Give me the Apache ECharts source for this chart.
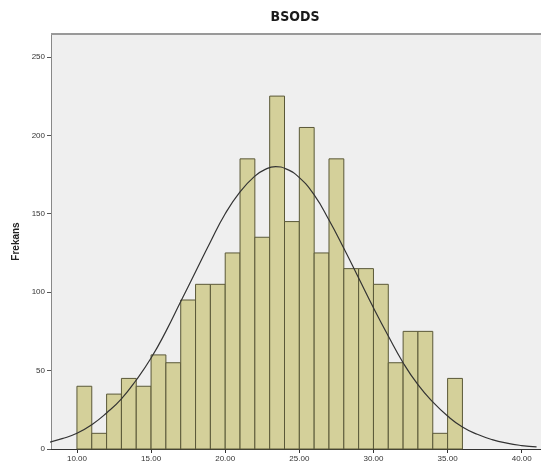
<!DOCTYPE html>
<html>
<head>
<meta charset="utf-8">
<script src="https://cdn.jsdelivr.net/npm/echarts@6/dist/echarts.min.js"></script>
<style>
html,body{margin:0;padding:0;background:#fff;}
#chart{width:541px;height:475px;}
</style>
</head>
<body>
<div id="chart"></div>
<script>
// Histogram bins (lower edges), bin width 1
var binStarts = [10,11,12,13,14,15,16,17,18,19,20,21,22,23,24,25,26,27,28,29,30,31,32,33,34,35];
var binWidth = 1;
var counts = [40,10,35,45,40,60,55,95,105,105,125,185,135,225,145,205,125,185,115,115,105,55,75,75,10,45];
// Normal curve
var curveX = [8,9,10,11,12,13,14,15,16,17,18,19,20,21,22,22.7,23.4,24.1,25,26,27,28,29,30,31,32,33,34,35,36,37,38,39,40,41];
var curveY = [4,6.6,10,15.5,23,32,44,58,75,94,113,132,150,164,174,178.3,180,178.6,173,162,146,128,109,90,72,55,41,30,21,14,9.4,6,3.7,2.2,1.3];
var xTicks = [10,15,20,25,30,35,40];
var yTicks = [0,50,100,150,200,250];

var chart = echarts.init(document.getElementById('chart'));
var barData = binStarts.map(function(b,i){return [b, b+binWidth, counts[i]];});
var curveData = curveX.map(function(x,i){return [x, curveY[i]];});
var font = 'Liberation Sans, Arial, sans-serif';

chart.setOption({
  animation:false,
  backgroundColor:'#ffffff',
  title:{
    text:'BSODS', left:290, top:5, textAlign:'center',
    textStyle:{fontFamily:'DejaVu Sans Condensed, Liberation Sans Narrow, sans-serif', fontSize:14, fontWeight:'bold', color:'#1a1a1a'}
  },
  grid:{left:51, top:34, right:0, bottom:26, show:true, backgroundColor:'#efefef', borderWidth:0},
  xAxis:{
    type:'value', min:8.25, max:41.3,
    axisLine:{show:true, lineStyle:{color:'#333', width:1}},
    axisTick:{show:true, length:4, inside:false, customValues:xTicks, lineStyle:{color:'#333'}},
    axisLabel:{customValues:xTicks, fontFamily:font, fontSize:8, color:'#333', margin:6,
      formatter:function(v){return v.toFixed(2);}},
    splitLine:{show:false}
  },
  yAxis:{
    type:'value', min:0, max:264.6,
    name:'Frekans', nameLocation:'middle', nameGap:28, nameRotate:90,
    nameTextStyle:{fontFamily:font, fontSize:10, fontWeight:'bold', color:'#222'},
    axisLine:{show:true, lineStyle:{color:'#888', width:1}},
    axisTick:{show:true, length:4, customValues:yTicks, lineStyle:{color:'#555'}},
    axisLabel:{customValues:yTicks, fontFamily:font, fontSize:8, color:'#333', margin:6},
    splitLine:{show:false}
  },
  series:[
    {
      type:'custom',
      data:barData,
      encode:{x:[0,1], y:2},
      renderItem:function(params, api){
        var p0 = api.coord([api.value(0), api.value(2)]);
        var p1 = api.coord([api.value(1), 0]);
        return {
          type:'rect',
          shape:{x:p0[0], y:p0[1], width:p1[0]-p0[0], height:p1[1]-p0[1]},
          style:{fill:'#d4d09a', stroke:'#5a5838', lineWidth:1}
        };
      },
      z:2
    },
    {
      type:'line', data:curveData, smooth:true, showSymbol:false,
      lineStyle:{color:'#333', width:1.2}, z:3
    },
    {
      type:'line', data:[[8.25,264.6],[41.3,264.6]], showSymbol:false, silent:true,
      lineStyle:{color:'#999', width:2}, z:4
    }
  ]
});
</script>
</body>
</html>
